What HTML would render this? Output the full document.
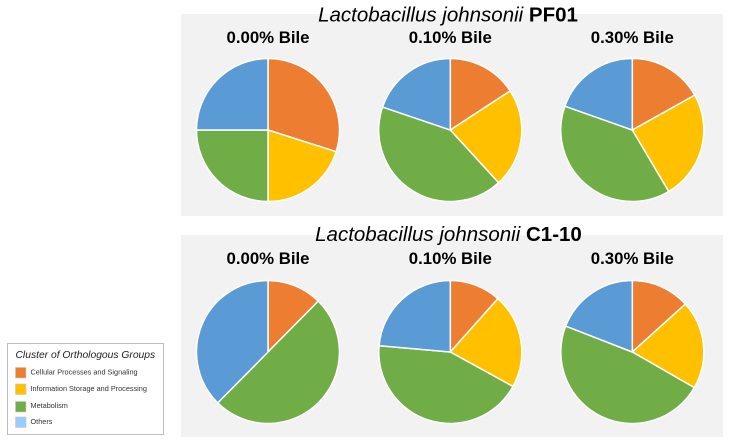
<!DOCTYPE html>
<html lang="en">
<head>
<meta charset="utf-8">
<title>Lactobacillus johnsonii COG pie charts</title>
<style>
html,body{margin:0;padding:0;background:#fff;width:729px;height:444px;overflow:hidden}
svg{display:block;font-family:"Liberation Sans",sans-serif}
</style>
</head>
<body>
<svg id="chart" width="729" height="444" viewBox="0 0 729 444" xmlns="http://www.w3.org/2000/svg">
  <rect x="181" y="14" width="542" height="202" fill="#f2f2f2"/>
  <rect x="181" y="235" width="542" height="202" fill="#f2f2f2"/>
  <text x="448" y="21.5" text-anchor="middle" font-size="20.5" fill="#000"><tspan font-style="italic">Lactobacillus johnsonii </tspan><tspan font-weight="bold">PF01</tspan></text>
  <text x="448.5" y="241" text-anchor="middle" font-size="20.5" fill="#000"><tspan font-style="italic">Lactobacillus johnsonii </tspan><tspan font-weight="bold">C1-10</tspan></text>
  <g id="pies"></g>
  <g>
    <rect x="7.5" y="343.5" width="156" height="91" fill="#fff" stroke="#bdbdbd" stroke-width="1"/>
    <text x="15.5" y="358" font-size="10.3" font-style="italic" fill="#222">Cluster of Orthologous Groups</text>
    <rect x="15.5" y="367.5" width="10.5" height="10.5" fill="#ed7d31" stroke="#c9c9c9" stroke-width="0.6"/>
    <text x="30.5" y="374.5" font-size="7.3" fill="#333">Cellular Processes and Signaling</text>
    <rect x="15.5" y="384" width="10.5" height="10.5" fill="#ffc000" stroke="#c9c9c9" stroke-width="0.6"/>
    <text x="30.5" y="391" font-size="7.3" fill="#333">Information Storage and Processing</text>
    <rect x="15.5" y="401.5" width="10.5" height="10.5" fill="#70ad47" stroke="#c9c9c9" stroke-width="0.6"/>
    <text x="30.5" y="408" font-size="7.3" fill="#333">Metabolism</text>
    <rect x="15.5" y="417" width="10.5" height="10.5" fill="#99ccff" stroke="#c9c9c9" stroke-width="0.6"/>
    <text x="30.5" y="424" font-size="7.3" fill="#333">Others</text>
  </g>
</svg>
<script>
const bileLabels = ['0.00% Bile', '0.10% Bile', '0.30% Bile'];
const categories = ['cellular', 'information', 'metabolism', 'others'];
const pf01Bile000 = [29.9, 20.1, 25.0, 25.0];
const pf01Bile010 = [15.8, 22.4, 42.0, 19.8];
const pf01Bile030 = [16.9, 24.6, 38.9, 19.6];
const c110Bile000 = [12.4, 0, 50.0, 37.6];
const c110Bile010 = [11.6, 21.4, 43.4, 23.6];
const c110Bile030 = [13.3, 20.0, 47.6, 19.1];

const colors = ['#ed7d31', '#ffc000', '#70ad47', '#5b9bd5'];
const NS = 'http://www.w3.org/2000/svg';
const root = document.getElementById('pies');
const columnX = [268, 450.3, 632.3];
const rowY = [130, 352];
const labelY = [43, 264];
const rowNames = ['pf01', 'c1-10'];
const RADIUS = 71.5;

function point(cx, cy, r, frac) {
  const a = frac * 2 * Math.PI;
  return [cx + r * Math.sin(a), cy - r * Math.cos(a)];
}

function drawPie(values, col, row) {
  const cx = columnX[col];
  const cy = rowY[row];
  const total = values.reduce(function (a, b) { return a + b; }, 0);
  let cum = 0;
  const g = document.createElementNS(NS, 'g');
  
  
  values.forEach(function (v, i) {
    const start = cum / total;
    cum += v;
    const end = cum / total;
    if (v <= 0) return;
    const p0 = point(cx, cy, RADIUS, start);
    const p1 = point(cx, cy, RADIUS, end);
    const large = end - start > 0.5 ? 1 : 0;
    const path = document.createElementNS(NS, 'path');
    path.setAttribute('d', 'M' + cx + ' ' + cy + 'L' + p0[0] + ' ' + p0[1] + 'A' + RADIUS + ' ' + RADIUS + ' 0 ' + large + ' 1 ' + p1[0] + ' ' + p1[1] + 'Z');
    path.setAttribute('fill', colors[i]);
    path.setAttribute('stroke', '#fff');
    path.setAttribute('stroke-width', '1.5');
    path.setAttribute('stroke-linejoin', 'round');
    
    
    g.appendChild(path);
  });
  root.appendChild(g);

  const label = document.createElementNS(NS, 'text');
  label.setAttribute('x', cx);
  label.setAttribute('y', labelY[row]);
  label.setAttribute('text-anchor', 'middle');
  label.setAttribute('font-size', '16.8');
  label.setAttribute('font-weight', 'bold');
  label.setAttribute('fill', '#000');
  
  
  label.textContent = bileLabels[col];
  root.appendChild(label);
}

drawPie(pf01Bile000, 0, 0);
drawPie(pf01Bile010, 1, 0);
drawPie(pf01Bile030, 2, 0);
drawPie(c110Bile000, 0, 1);
drawPie(c110Bile010, 1, 1);
drawPie(c110Bile030, 2, 1);
</script>
</body>
</html>
